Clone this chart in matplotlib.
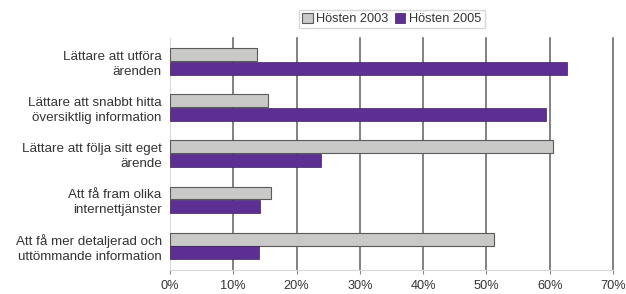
import matplotlib
matplotlib.use("Agg")
import matplotlib.pyplot as plt
import numpy as np

plt.rcParams['font.family'] = ['Liberation Sans', 'DejaVu Sans']

categories = [
    "Lättare att utföra\närenden",
    "Lättare att snabbt hitta\növersiktlig information",
    "Lättare att följa sitt eget\närende",
    "Att få fram olika\ninternettjänster",
    "Att få mer detaljerad och\nuttömmande information",
]
hosten_2003 = [13.7, 15.5, 60.5, 16.0, 51.2]
hosten_2005 = [62.7, 59.4, 23.9, 14.2, 14.0]
series_names = ["Hösten 2003", "Hösten 2005"]
xticks = [0, 10, 20, 30, 40, 50, 60, 70]
xticklabels = ["0%", "10%", "20%", "30%", "40%", "50%", "60%", "70%"]

fig = plt.figure(figsize=(6.26, 2.94), dpi=100)
ax = fig.add_axes([170/626, 1-270/294, (613-170)/626, (270-38)/294])

y = np.arange(len(categories))
h = 0.28
ax.barh(y - 0.15, hosten_2003, height=h, color="#c9cac8", edgecolor="#5a5a5a", linewidth=0.8,
        label=series_names[0], zorder=3)
ax.barh(y + 0.15, hosten_2005, height=h, color="#5e2f92", edgecolor="#3a2060", linewidth=0.5,
        label=series_names[1], zorder=3)

fs = 9.2
ax.set_xlim(0, 70)
ax.set_ylim(4.52, -0.51)
ax.set_yticks(y)
ax.set_yticklabels(categories, fontsize=9.6, color="#333333", linespacing=1.3)
ax.set_xticks(xticks)
ax.set_xticklabels(xticklabels, fontsize=fs, color="#333333")
ax.tick_params(axis='y', length=0, pad=6)
ax.tick_params(axis='x', length=3, color="#888888", pad=4)

for xv in xticks[1:]:
    ax.axvline(xv, color="#5f5f5f", linewidth=1.1, zorder=1, clip_on=False)

for s in ['top', 'right']:
    ax.spines[s].set_visible(False)
ax.spines['left'].set_color("#d8d8d8")
ax.spines['bottom'].set_color("#d8d8d8")
ax.spines['left'].set_linewidth(0.8)
ax.spines['bottom'].set_linewidth(0.8)

leg = fig.legend(loc='center', bbox_to_anchor=(392/626, 1-19/294), ncol=2, fontsize=fs,
                 frameon=True, fancybox=False, edgecolor="#cccccc", handlelength=0.8,
                 handleheight=0.8, handletextpad=0.3, columnspacing=0.5, borderpad=0.25,
                 borderaxespad=0)
for t in leg.get_texts():
    t.set_color("#333333")

fig.savefig("out.png", dpi=100)
